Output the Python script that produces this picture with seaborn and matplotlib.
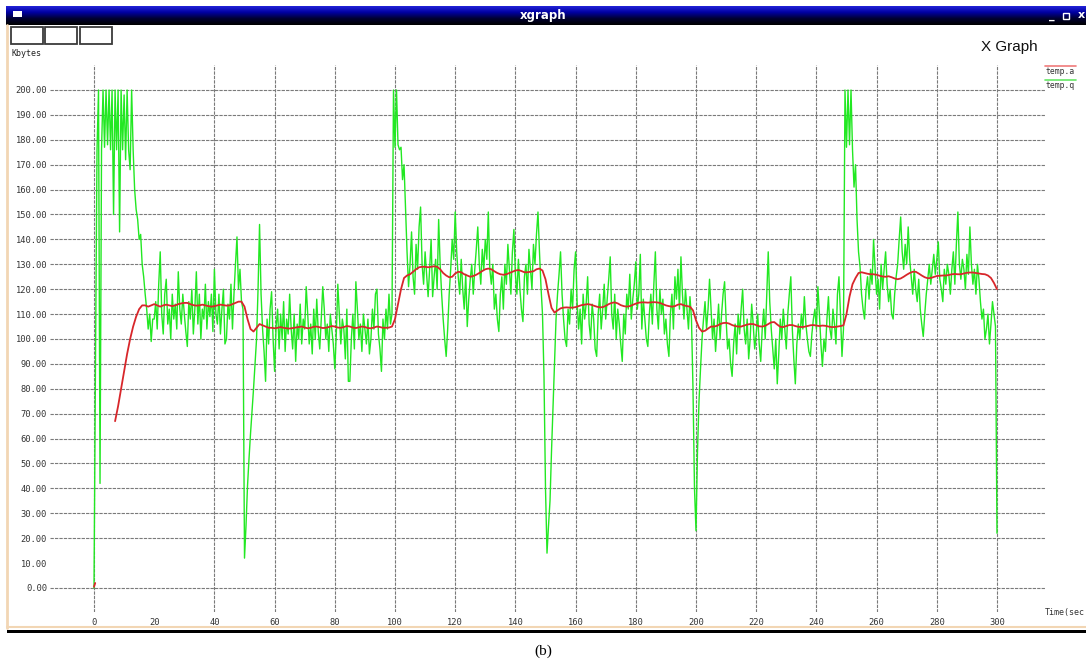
import numpy as np
import pandas as pd
import matplotlib
matplotlib.use("Agg")
import matplotlib.pyplot as plt
import seaborn as sns
from matplotlib.patches import Rectangle
from matplotlib.ticker import FixedLocator, FormatStrFormatter
from matplotlib.colors import LinearSegmentedColormap

# ---------------- data ----------------
sample_step = 0.5          # seconds between queue samples (temp.q)
queue_kb = [
    0, 92, 176, 200, 42, 176, 200, 177, 200, 178,          # 0
    200, 176, 200, 150, 200, 176, 200, 143, 200, 176,      # 5
    198, 172, 200, 176, 168, 200, 176, 160, 152, 148,      # 10
    140, 142, 130, 125, 118, 112, 104, 110, 99, 108,       # 15
    108, 115, 104, 122, 135, 110, 102, 118, 124, 106,      # 20
    112, 100, 118, 108, 114, 104, 127, 112, 106, 118,      # 25
    110, 103, 97, 115, 108, 120, 102, 112, 127, 106,       # 30
    118, 100, 112, 108, 122, 104, 115, 109, 118, 103,      # 35
    128, 110, 106, 118, 102, 112, 120, 98, 100, 114,       # 40
    108, 122, 104, 118, 130, 141, 120, 128, 115, 112,      # 45
    12, 25, 41, 52, 62, 71, 80, 90, 100, 120,              # 50
    146, 118, 104, 95, 83, 108, 98, 112, 119, 100,         # 55
    87, 105, 112, 96, 110, 100, 115, 95, 108, 102,         # 60
    118, 104, 96, 110, 91, 106, 100, 114, 98, 108,         # 65
    104, 121, 110, 98, 106, 94, 112, 100, 116, 103,        # 70
    96, 108, 121, 112, 100, 106, 95, 110, 104, 98,         # 75
    88, 102, 122, 110, 98, 108, 104, 92, 112, 83,          # 80
    83, 100, 110, 96, 123, 112, 100, 106, 95, 110,         # 85
    104, 98, 108, 94, 100, 112, 104, 118, 120, 102,        # 90
    96, 87, 108, 100, 112, 104, 118, 106, 110, 200,        # 95
    177, 200, 178, 176, 177, 164, 170, 153, 135, 121,      # 100
    130, 143, 125, 118, 138, 128, 145, 153, 130, 122,      # 105
    135, 126, 117, 128, 140, 117, 125, 132, 120, 148,      # 110
    130, 118, 108, 100, 93, 104, 118, 128, 140, 132,       # 115
    151, 135, 125, 118, 132, 120, 112, 126, 105, 116,      # 120
    124, 130, 118, 128, 136, 145, 130, 122, 136, 128,      # 125
    140, 132, 151, 128, 122, 130, 112, 118, 108, 103,      # 130
    118, 125, 112, 130, 122, 138, 128, 118, 135, 144,      # 135
    126, 118, 132, 120, 112, 107, 125, 130, 118, 136,      # 140
    128, 120, 138, 130, 142, 151, 135, 121, 110, 85,       # 145
    40, 14, 25, 35, 55, 73, 90, 108, 118, 126,             # 150
    135, 118, 108, 100, 97, 112, 106, 120, 112, 128,       # 155
    135, 115, 104, 112, 98, 118, 108, 114, 125, 106,       # 160
    100, 114, 108, 96, 93, 110, 118, 104, 112, 122,        # 165
    108, 116, 124, 133, 110, 104, 118, 100, 112, 106,      # 170
    98, 91, 110, 102, 118, 112, 126, 108, 116, 122,        # 175
    131, 112, 118, 134, 104, 116, 108, 100, 97, 110,       # 180
    118, 106, 122, 135, 112, 104, 120, 110, 116, 102,      # 185
    108, 98, 93, 110, 118, 104, 125, 116, 128, 112,        # 190
    133, 118, 108, 120, 112, 104, 117, 108, 80, 40,        # 195
    23, 55, 75, 88, 100, 108, 115, 104, 112, 124,          # 200
    112, 100, 108, 95, 104, 114, 100, 110, 118, 123,       # 205
    108, 96, 100, 90, 85, 98, 106, 94, 110, 102,           # 210
    112, 120, 104, 98, 108, 92, 100, 114, 106, 96,         # 215
    102, 110, 98, 91, 104, 112, 100, 118, 135, 115,        # 220
    104, 96, 88, 100, 82, 94, 108, 100, 112, 104,          # 225
    96, 110, 118, 125, 104, 92, 82, 98, 106, 100,          # 230
    110, 104, 117, 106, 100, 95, 93, 102, 108, 112,        # 235
    104, 121, 110, 98, 89, 100, 95, 108, 117, 104,         # 240
    100, 112, 106, 98, 118, 125, 110, 93, 104, 200,        # 245
    177, 200, 178, 200, 176, 161, 170, 148, 135, 129,      # 250
    118, 112, 108, 120, 125, 116, 128, 122, 140, 128,      # 255
    118, 124, 112, 130, 120, 128, 135, 122, 115, 120,      # 260
    110, 108, 118, 125, 130, 140, 149, 135, 128, 138,      # 265
    130, 145, 132, 125, 118, 128, 120, 115, 124, 112,      # 270
    106, 101, 110, 118, 124, 130, 122, 128, 134, 126,      # 275
    132, 139, 124, 120, 115, 128, 122, 130, 126, 118,      # 280
    128, 135, 122, 138, 151, 130, 124, 132, 128, 120,      # 285
    134, 126, 145, 130, 122, 128, 118, 130, 124, 115,      # 290
    108, 112, 100, 104, 110, 98, 106, 115, 110, 105,       # 295
    22,                                                    # 300
]

avg_start_t = 7            # first second of the average (temp.a), 1 s steps
avg_kb = [
    67, 73, 80, 87, 94, 100, 105, 109, 112, 113.5,                              # 7
    113.5, 113, 113.5, 114, 113.5, 113, 113.5, 113.8, 113.5, 113.2,             # 17
    113.5, 114, 114.3, 114.5, 114.5, 114, 113.6, 113.4, 113.5, 113.8,           # 27
    113.5, 113.2, 113, 113.2, 113.5, 113.8, 113.6, 113.4, 113.5, 114,           # 37
    114.5, 115, 115, 113, 108, 104, 103, 104.5, 106, 105.5,                     # 47
    105, 104.5, 104.5, 104.3, 104.5, 104.8, 104.5, 104.3, 104.2, 104.4,         # 57
    104.6, 104.8, 105, 104.6, 104.3, 104.5, 104.9, 105, 104.7, 104.4,           # 67
    104.5, 104.8, 105.2, 105, 104.6, 104.5, 104.8, 105.2, 105, 104.6,           # 77
    104.4, 104.7, 105, 104.8, 104.4, 104.3, 104.6, 105, 104.8, 104.5,           # 87
    104.5, 104.6, 105, 108, 114, 120, 124.5, 125.5, 126, 127,                   # 97
    128, 128.8, 129, 129, 128.8, 129, 129.2, 129, 128, 126.5,                   # 107
    125.5, 124.8, 125, 126.3, 127, 126.8, 126, 125.5, 125, 125.3,               # 117
    125.8, 126.5, 127.3, 128, 128.3, 128, 127.2, 126.5, 126, 125.8,             # 127
    126, 126.5, 127, 127.5, 127.7, 127.3, 126.8, 126.8, 127, 127.2,             # 137
    128, 128.3, 127.5, 124, 118, 112.5, 110.6, 111.5, 112.3, 112.6,             # 147
    112.7, 112.6, 112.6, 112.8, 113.2, 113.6, 113.8, 114, 113.8, 113.4,         # 157
    113, 112.7, 112.8, 113.3, 114, 114.5, 114.7, 114.3, 113.6, 113.2,           # 167
    113, 113.2, 113.7, 114.2, 114.6, 114.7, 114.7, 114.6, 114.7, 114.8,         # 177
    114.7, 114.5, 114, 113.5, 113.2, 113, 113.2, 113.8, 114, 113.5,             # 187
    113.2, 113, 111.5, 107.5, 104.5, 103, 103.3, 104.2, 105, 105,               # 197
    105.3, 106, 106.4, 106.5, 106.2, 105.6, 105.2, 105, 105, 105.4,             # 207
    105.8, 106, 106, 105.6, 105.1, 105, 105.3, 106, 106.7, 106.8,               # 217
    105.8, 104.9, 104.8, 105.2, 105.6, 105.6, 105.2, 104.9, 104.8, 104.9,       # 227
    105.2, 105.5, 105.6, 105.4, 105.2, 105.4, 105.3, 105, 104.8, 104.8,         # 237
    105, 105.2, 105.5, 110, 117, 122, 124.5, 126.5, 126.8, 126.5,               # 247
    126.2, 126, 126, 125.8, 125.4, 125.1, 125, 125.2, 124.8, 124.3,             # 257
    124, 124.3, 125, 125.8, 126.5, 127, 127, 126.3, 125.5, 124.8,               # 267
    124.4, 124.5, 124.9, 125.3, 125.4, 125.5, 125.5, 125.7, 126, 126.1,         # 277
    126, 126, 126.3, 126.6, 126.7, 126.7, 126.5, 126.3, 126.1, 126,             # 287
    125.5, 124.5, 122.5, 120,                                                   # 297
]
avg_origin_t = [0.0, 0.4]   # short red mark at the origin
avg_origin_kb = [0.5, 2.0]

x_ticks = list(range(0, 301, 20))
y_ticks = list(range(0, 201, 10))
legend_labels = ["temp.a", "temp.q"]
x_label = "Time(sec"
y_label = "Kbytes"
window_title = "xgraph"
graph_title = "X Graph"
caption = "(b)"

# ---------------- style ----------------
W, H = 1086, 662
GREEN = "#22e822"
RED = "#d8262a"
sns.set_theme(style="white")
plt.rcParams["font.family"] = ["DejaVu Sans Mono", "DejaVu Sans"]

fig = plt.figure(figsize=(W / 100, H / 100), dpi=100)
fig.patch.set_facecolor("white")

# decoration layer in pixel coordinates
deco = fig.add_axes([0, 0, 1, 1], zorder=0)
deco.axis("off")
cmap = LinearSegmentedColormap.from_list("tb", ["#2222d8", "#0000a0", "#000030", "#000000"])
grad = np.linspace(0, 1, 60).reshape(-1, 1)
deco.imshow(grad, cmap=cmap, extent=[6, W, 25, 6], aspect="auto", zorder=1)
deco.set_xlim(0, W)
deco.set_ylim(H, 0)
deco.add_patch(Rectangle((13, 11), 9, 6, facecolor="white", edgecolor="none", zorder=2))
deco.text(543, 15.5, window_title, color="white", fontsize=8.5, weight="bold",
          family="DejaVu Sans", ha="center", va="center", zorder=3)
deco.text(1052, 16, "_", color="white", fontsize=8, weight="bold",
          family="DejaVu Sans", ha="center", va="center", zorder=3)
deco.add_patch(Rectangle((1063, 12.5), 6, 6, facecolor="none", edgecolor="white", lw=1, zorder=3))
deco.text(1081, 15.5, "x", color="white", fontsize=8, weight="bold",
          family="DejaVu Sans", ha="center", va="center", zorder=3)

for bx in [10.7, 45, 80]:
    deco.add_patch(Rectangle((bx, 27), 32, 17, facecolor="white",
                             edgecolor="#3a3a3a", lw=1.3, zorder=2))
deco.text(11, 53, y_label, fontsize=6, color="#222222", ha="left", va="center")
deco.text(1038, 47, graph_title, fontsize=11, family="Liberation Sans",
          color="#111111", ha="right", va="center")

# legend (line drawn above each label, as in xgraph)
deco.plot([1045, 1076], [66, 66], color="#f07a7a", lw=1.2)
deco.text(1046, 71.5, legend_labels[0], fontsize=5.8, color="#333333", ha="left", va="center")
deco.plot([1045, 1076], [80, 80], color="#66e866", lw=1.2)
deco.text(1046, 86, legend_labels[1], fontsize=5.8, color="#333333", ha="left", va="center")

deco.text(1045, 612, x_label, fontsize=6, color="#333333", ha="left", va="center")

# window borders
deco.plot([7, 7], [25, 628], color="#f2d6b4", lw=2)
deco.plot([7, W], [627, 627], color="#f2d6b4", lw=1.5)
deco.add_patch(Rectangle((7, 629.5), W - 7, 3, facecolor="black", edgecolor="none"))
deco.text(543, 651, caption, fontsize=11, family="Liberation Serif",
          color="black", ha="center", va="center")

# ---------------- data axes ----------------
ax = fig.add_axes([50 / W, (H - 612) / H, 995 / W, 547 / H], zorder=1)
ax.set_facecolor("none")

df_q = pd.DataFrame({"t": np.arange(len(queue_kb)) * sample_step, "kb": queue_kb})
df_a = pd.DataFrame({"t": np.arange(len(avg_kb)) + avg_start_t, "kb": avg_kb})
df_o = pd.DataFrame({"t": avg_origin_t, "kb": avg_origin_kb})

sns.lineplot(data=df_q, x="t", y="kb", ax=ax, color=GREEN, lw=1.0,
             estimator=None, sort=False, legend=False)
sns.lineplot(data=df_a, x="t", y="kb", ax=ax, color=RED, lw=1.3,
             estimator=None, sort=False, legend=False)
sns.lineplot(data=df_o, x="t", y="kb", ax=ax, color=RED, lw=1.3,
             estimator=None, sort=False, legend=False)

ax.set_xlim(-14.62, 315.95)
ax.set_ylim(-9.64, 210.04)
ax.xaxis.set_major_locator(FixedLocator(x_ticks))
ax.yaxis.set_major_locator(FixedLocator(y_ticks))
ax.yaxis.set_major_formatter(FormatStrFormatter("%.2f"))
ax.set_xlabel("")
ax.set_ylabel("")
for s in ax.spines.values():
    s.set_visible(False)
ax.set_axisbelow(True)
ax.grid(True, color="#7a7a7a", lw=0.8, ls=(0, (3, 1)))
for tk in ax.xaxis.get_major_ticks():
    if tk.get_loc() == 0:
        tk.gridline.set_visible(False)
for tk in ax.yaxis.get_major_ticks():
    if tk.get_loc() == 0:
        tk.gridline.set_visible(False)
ax.tick_params(axis="both", length=0, labelsize=6.3, labelcolor="#333333")
ax.tick_params(axis="y", pad=2.2)
ax.tick_params(axis="x", pad=4.0)

fig.savefig("out.png", dpi=100, facecolor="white")
